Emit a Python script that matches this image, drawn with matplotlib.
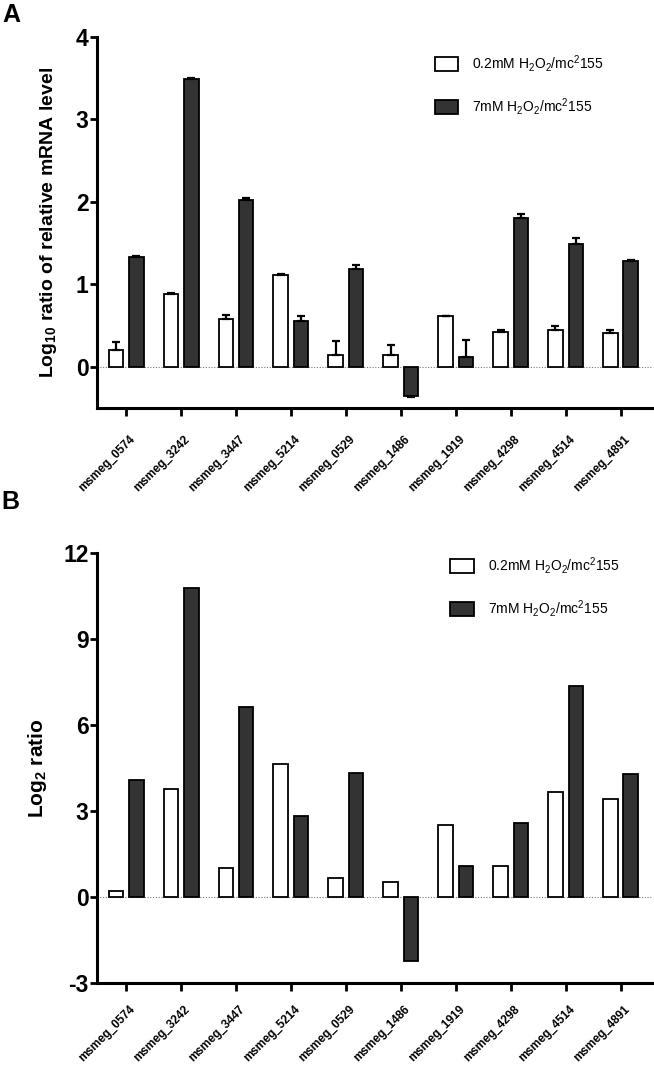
import numpy as np
import matplotlib
matplotlib.use("Agg")
import matplotlib.pyplot as plt
from matplotlib.patches import Patch
from matplotlib.transforms import ScaledTranslation

plt.rcParams['font.family'] = ['Liberation Sans', 'DejaVu Sans']
plt.rcParams['mathtext.default'] = 'regular'
plt.rcParams['axes.unicode_minus'] = False

genes = ["msmeg_0574", "msmeg_3242", "msmeg_3447", "msmeg_5214", "msmeg_0529",
         "msmeg_1486", "msmeg_1919", "msmeg_4298", "msmeg_4514", "msmeg_4891"]

series_labels = [r"0.2mM H$_2$O$_2$/mc$^2$155", r"7mM H$_2$O$_2$/mc$^2$155"]

# Panel A: log10 ratio of relative mRNA level (mean, upper SEM)
log10_low = [0.20, 0.88, 0.58, 1.11, 0.145, 0.14, 0.61, 0.42, 0.45, 0.41]
log10_low_err = [0.10, 0.01, 0.05, 0.01, 0.17, 0.12, 0.01, 0.03, 0.05, 0.04]
log10_high = [1.33, 3.49, 2.02, 0.56, 1.19, -0.36, 0.12, 1.80, 1.49, 1.28]
log10_high_err = [0.01, 0.01, 0.03, 0.05, 0.04, 0.01, 0.20, 0.05, 0.07, 0.01]

# Panel B: log2 ratio (microarray)
log2_low = [0.20, 3.77, 1.01, 4.64, 0.67, 0.53, 2.52, 1.09, 3.67, 3.42]
log2_high = [4.07, 10.79, 6.63, 2.81, 4.32, -2.23, 1.09, 2.58, 7.37, 4.30]

W, H = 654, 1069
fig = plt.figure(figsize=(W / 100, H / 100), dpi=100)

x = np.arange(len(genes))
bw = 0.265
off = 0.185
dark = "#333333"

def style_axes(ax, ylim, yticks, xpad):
    ax.set_xlim(-0.53, 9.59)
    ax.set_ylim(*ylim)
    ax.set_yticks(yticks)
    for s in ["top", "right"]:
        ax.spines[s].set_visible(False)
    for s in ["left", "bottom"]:
        ax.spines[s].set_linewidth(2.2)
    ax.tick_params(axis="y", direction="out", length=5, width=2.0, labelsize=16.5, pad=1)
    ax.tick_params(axis="x", direction="out", length=5.5, width=2.0, pad=xpad)
    for lab in ax.get_yticklabels():
        lab.set_fontweight("bold")
    ax.set_xticks(x)
    ax.set_xticklabels(genes, rotation=45, ha="right", rotation_mode="anchor",
                       fontsize=8.5, fontweight="bold")
    shift = ScaledTranslation(3 / 100, 0, fig.dpi_scale_trans)
    for lab in ax.get_xticklabels():
        lab.set_transform(lab.get_transform() + shift)
    ax.axhline(0, color="#777777", lw=0.8, ls=(0, (1, 1.5)), zorder=0)

handles = [Patch(facecolor="white", edgecolor="black", lw=1.3),
           Patch(facecolor=dark, edgecolor="black", lw=1.3)]

# ---- Panel A ----
axA = fig.add_axes([97 / W, 1 - 408 / H, 556 / W, (408 - 37) / H])
axA.bar(x - off, log10_low, bw, color="white", edgecolor="black", lw=1.3,
        yerr=[np.zeros(len(x)), log10_low_err], capsize=3.2,
        error_kw=dict(elinewidth=1.6, capthick=1.6, ecolor="black"), zorder=2)
high_err_low = [e if v < 0 else 0 for v, e in zip(log10_high, log10_high_err)]
high_err_up = [0 if v < 0 else e for v, e in zip(log10_high, log10_high_err)]
axA.bar(x + off, log10_high, bw, color=dark, edgecolor="black", lw=1.3,
        yerr=[high_err_low, high_err_up], capsize=3.2,
        error_kw=dict(elinewidth=1.6, capthick=1.6, ecolor="black"), zorder=2)
style_axes(axA, (-0.5, 4), [0, 1, 2, 3, 4], 13)
axA.set_ylabel(r"Log$_{10}$ ratio of relative mRNA level", fontsize=14, fontweight="bold", labelpad=12)
axA.legend(handles, series_labels, loc="upper left", bbox_to_anchor=(0.585, 0.99),
           frameon=False, fontsize=10, handlelength=1.7, handleheight=1.2,
           labelspacing=1.6, handletextpad=1.0)

# ---- Panel B ----
axB = fig.add_axes([97 / W, 1 - 983 / H, 556 / W, (983 - 553) / H])
axB.bar(x - off, log2_low, bw, color="white", edgecolor="black", lw=1.3, zorder=2)
axB.bar(x + off, log2_high, bw, color=dark, edgecolor="black", lw=1.3, zorder=2)
style_axes(axB, (-3, 12), [-3, 0, 3, 6, 9, 12], 9)
axB.set_ylabel(r"Log$_2$ ratio", fontsize=15, fontweight="bold", labelpad=10)
axB.legend(handles, series_labels, loc="upper left", bbox_to_anchor=(0.613, 1.024),
           frameon=False, fontsize=10, handlelength=1.7, handleheight=1.2,
           labelspacing=1.6, handletextpad=1.0)

fig.text(2 / W, 1 - 3 / H, "A", fontsize=18, fontweight="bold", va="top")
fig.text(1 / W, 1 - 490 / H, "B", fontsize=18, fontweight="bold", va="top")

fig.savefig("out.png", dpi=100)
